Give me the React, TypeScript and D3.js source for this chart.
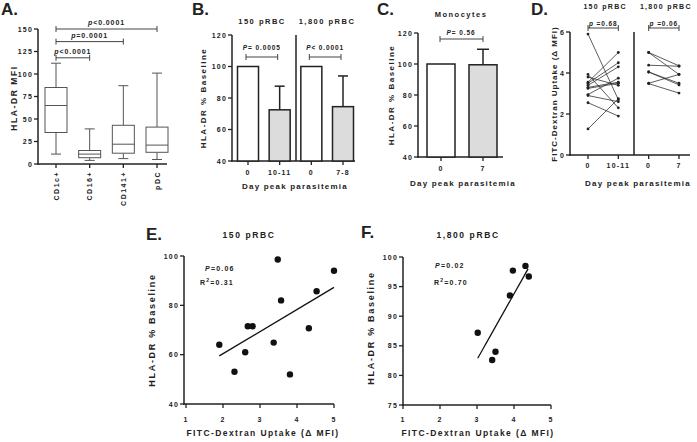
import React from "react";
import * as d3 from "d3";

// ---------- Panel A: box plots ----------
const boxCategories = ["CD1c+", "CD16+", "CD141+", "pDC"];
const boxMin = [11, 4, 6, 5];
const boxQ1 = [35, 7, 12, 13];
const boxMedian = [65, 11, 22, 21];
const boxQ3 = [85, 15, 43, 41];
const boxMax = [112, 39, 87, 101];
const boxTicks = [0, 25, 50, 75, 100, 125, 150];
const aBracketFrom = [0, 0, 0];
const aBracketTo = [1, 2, 3];
const aBracketY = [118, 136, 150];
const aBracketText = ["<0.0001", "=0.0001", "<0.0001"];

// ---------- Panel B: bars ----------
const bGroups = ["150 pRBC", "1,800 pRBC"];
const bDays = ["0", "10-11", "0", "7-8"];
const bMean = [100, 72.5, 100, 74.5];
const bUpper = [100, 87.5, 100, 94];
const bPText = ["= 0.0005", "< 0.0001"];
const bTicks = [40, 60, 80, 100, 120];

// ---------- Panel C: monocytes ----------
const cDays = ["0", "7"];
const cMean = [100, 99.5];
const cUpper = [100, 109.5];
const cPText = "= 0.56";
const cTicks = [40, 60, 80, 100, 120];

// ---------- Panel D: paired lines ----------
const dGroups = ["150 pRBC", "1,800 pRBC"];
const dDays = ["0", "10-11", "0", "7"];
const dLowBefore = [5.9, 3.93, 3.8, 3.55, 3.5, 3.4, 3.3, 3.25, 2.95, 2.9, 2.55, 1.27];
const dLowAfter = [2.7, 2.3, 3.4, 5.0, 4.5, 4.3, 3.55, 3.5, 3.75, 2.6, 1.9, 2.75];
const dHighBefore = [5.0, 5.0, 4.38, 4.05, 4.05, 3.5, 3.48];
const dHighAfter = [4.35, 3.93, 4.33, 3.5, 3.42, 3.93, 3.02];
const dPText = ["=0.68", "=0.06"];
const dTicks = [0, 2, 4, 6];

// ---------- Panel E: scatter 150 pRBC ----------
const eX = [1.9, 2.31, 2.6, 2.67, 2.8, 3.37, 3.48, 3.57, 3.81, 4.32, 4.53, 5.0];
const eY = [64, 53.1, 61, 71.5, 71.5, 64.9, 98.6, 82, 52, 70.7, 85.7, 94];
const eFitX = [1.9, 5.0];
const eFitY = [59.5, 87.3];
const eXTicks = [1, 2, 3, 4, 5];
const eYTicks = [40, 60, 80, 100];

// ---------- Panel F: scatter 1,800 pRBC ----------
const fX = [3.02, 3.41, 3.5, 3.89, 3.97, 4.31, 4.4];
const fY = [87.2, 82.6, 84, 93.5, 97.7, 98.5, 96.7];
const fFitX = [3.02, 4.38];
const fFitY = [82.9, 98.0];
const fXTicks = [1, 2, 3, 4, 5];
const fYTicks = [75, 80, 85, 90, 95, 100];

const FONT = "'Liberation Sans', Arial, Helvetica, sans-serif";
const AX = "#222";

const txt = (size: number, spacing = 1): React.CSSProperties => ({
  fontFamily: FONT,
  fontWeight: 700,
  fontSize: size,
  letterSpacing: spacing,
  fill: "#222",
});

function YAxis({ scale, x, ticks, fmt = (d: number) => String(d) }: any) {
  const [r0, r1] = scale.range();
  return (
    <g>
      <line x1={x} x2={x} y1={r0 + 0.75} y2={r1} stroke={AX} strokeWidth={1.5} />
      {ticks.map((t: number) => (
        <g key={t}>
          <line x1={x - 4} x2={x} y1={scale(t)} y2={scale(t)} stroke={AX} strokeWidth={1.3} />
          <text x={x - 5} y={scale(t) + 2.5} textAnchor="end" style={txt(7, 1.2)}>
            {fmt(t)}
          </text>
        </g>
      ))}
    </g>
  );
}

function Bracket({ x1, x2, y, caps = 3 }: any) {
  return (
    <g stroke="#444" strokeWidth={1}>
      <line x1={x1} x2={x2} y1={y} y2={y} />
      <line x1={x1} x2={x1} y1={y - caps} y2={y + caps} />
      <line x1={x2} x2={x2} y1={y - caps} y2={y + caps} />
    </g>
  );
}

function PLabel({ x, y, letter, rest, size = 6.5 }: any) {
  return (
    <text x={x} y={y} textAnchor="middle" style={txt(size, 0.9)}>
      <tspan fontStyle="italic">{letter}</tspan>
      {rest}
    </text>
  );
}

export default function App() {
  // ----- Panel A -----
  const aY = d3.scaleLinear().domain([0, 150]).range([164, 29]);
  const aX = d3.scalePoint<string>().domain(boxCategories).range([56, 157]);
  const boxW = 22;

  // ----- Panel B -----
  const bY = d3.scaleLinear().domain([40, 120]).range([161, 35]);
  const bX = d3.scalePoint<number>().domain([0, 1, 2, 3]).range([248, 343]);
  const bW = 21;

  // ----- Panel C -----
  const cY = d3.scaleLinear().domain([40, 120]).range([157, 33]);
  const cX = d3.scalePoint<number>().domain([0, 1]).range([441, 483]);
  const cW = 28;

  // ----- Panel D -----
  const dY = d3.scaleLinear().domain([0, 6]).range([155, 32]);
  const dX = d3.scalePoint<number>().domain([0, 1, 2, 3]).range([588, 679]);

  // ----- Panel E -----
  const eXs = d3.scaleLinear().domain([1, 5]).range([186, 334]);
  const eYs = d3.scaleLinear().domain([40, 100]).range([404, 256]);

  // ----- Panel F -----
  const fXs = d3.scaleLinear().domain([1, 5]).range([403, 551]);
  const fYs = d3.scaleLinear().domain([75, 100]).range([405, 257]);

  const line = d3.line<[number, number]>();

  return (
    <svg width={697} height={442} style={{ position: "absolute", left: 0, top: 0, background: "#fff" }}>
      <rect width={697} height={442} fill="#fff" />

      {/* Panel letters */}
      <text x={1} y={15} style={txt(17, 0)}>A.</text>
      <text x={192} y={15} style={txt(17, 0)}>B.</text>
      <text x={377} y={15} style={txt(17, 0)}>C.</text>
      <text x={531} y={15} style={txt(17, 0)}>D.</text>
      <text x={146} y={240} style={txt(17, 0)}>E.</text>
      <text x={361} y={238} style={txt(17, 0)}>F.</text>

      {/* ================= A ================= */}
      <g>
        <YAxis scale={aY} x={38} ticks={boxTicks} />
        <line x1={37.25} x2={167} y1={164} y2={164} stroke={AX} strokeWidth={1.5} />
        {boxCategories.map((c, i) => {
          const cx = aX(c)!;
          return (
            <g key={c}>
              <line x1={cx} x2={cx} y1={164} y2={168} stroke={AX} strokeWidth={1.3} />
              <text
                transform={`translate(${cx + 2.5},${171}) rotate(-90)`}
                textAnchor="end"
                style={txt(7, 1.5)}
              >
                {c}
              </text>
              <g stroke="#555" strokeWidth={1} fill="none">
                <line x1={cx} x2={cx} y1={aY(boxMax[i])} y2={aY(boxQ3[i])} />
                <line x1={cx} x2={cx} y1={aY(boxQ1[i])} y2={aY(boxMin[i])} />
                <line x1={cx - 5} x2={cx + 5} y1={aY(boxMax[i])} y2={aY(boxMax[i])} />
                <line x1={cx - 5} x2={cx + 5} y1={aY(boxMin[i])} y2={aY(boxMin[i])} />
                <rect x={cx - boxW / 2} y={aY(boxQ3[i])} width={boxW} height={aY(boxQ1[i]) - aY(boxQ3[i])} fill="#fff" />
                <line x1={cx - boxW / 2} x2={cx + boxW / 2} y1={aY(boxMedian[i])} y2={aY(boxMedian[i])} />
              </g>
            </g>
          );
        })}
        {aBracketFrom.map((f, i) => {
          const x1 = aX(boxCategories[f])!;
          const x2 = aX(boxCategories[aBracketTo[i]])!;
          const y = aY(aBracketY[i]);
          return (
            <g key={i}>
              <Bracket x1={x1} x2={x2} y={y} caps={3} />
              <PLabel x={(x1 + x2) / 2} y={y - 4} letter="p" rest={aBracketText[i]} size={7} />
            </g>
          );
        })}
        <text transform="translate(17,98) rotate(-90)" textAnchor="middle" style={txt(8.5, 1.6)}>
          HLA-DR MFI
        </text>
      </g>

      {/* ================= B ================= */}
      <g>
        <YAxis scale={bY} x={232} ticks={bTicks} />
        <line x1={231.25} x2={355} y1={161} y2={161} stroke={AX} strokeWidth={1.5} />
        <line x1={296} x2={296} y1={35} y2={161} stroke={AX} strokeWidth={1.5} />
        {bDays.map((d, i) => {
          const cx = bX(i)!;
          return (
            <g key={i}>
              {bUpper[i] > bMean[i] && (
                <g stroke={AX} strokeWidth={1.5}>
                  <line x1={cx} x2={cx} y1={bY(bMean[i])} y2={bY(bUpper[i])} />
                  <line x1={cx - 5} x2={cx + 5} y1={bY(bUpper[i])} y2={bY(bUpper[i])} />
                </g>
              )}
              <rect
                x={cx - bW / 2}
                y={bY(bMean[i])}
                width={bW}
                height={bY(40) - bY(bMean[i])}
                fill={i % 2 === 0 ? "#fff" : "#dcdcdc"}
                stroke={AX}
                strokeWidth={1.5}
              />
              <line x1={cx} x2={cx} y1={161} y2={165} stroke={AX} strokeWidth={1.3} />
              <text x={cx} y={175} textAnchor="middle" style={txt(7, 1.2)}>
                {d}
              </text>
            </g>
          );
        })}
        {bGroups.map((g, k) => {
          const x1 = bX(2 * k)!;
          const x2 = bX(2 * k + 1)!;
          return (
            <g key={g}>
              <text x={k === 0 ? 262 : 327} y={24} textAnchor="middle" style={txt(7.5, 1.5)}>
                {g}
              </text>
              <Bracket x1={x1 - 2} x2={x2 - 2} y={57} caps={3} />
              <PLabel x={(x1 + x2) / 2 - 2} y={50} letter="P" rest={bPText[k]} />
            </g>
          );
        })}
        <text transform="translate(206,98) rotate(-90)" textAnchor="middle" style={txt(8, 1.5)}>
          HLA-DR % Baseline
        </text>
        <text x={295} y={189} textAnchor="middle" style={txt(8, 1.2)}>
          Day peak parasitemia
        </text>
      </g>

      {/* ================= C ================= */}
      <g>
        <YAxis scale={cY} x={418} ticks={cTicks} />
        <line x1={417.25} x2={503} y1={157} y2={157} stroke={AX} strokeWidth={1.5} />
        {cDays.map((d, i) => {
          const cx = cX(i)!;
          return (
            <g key={i}>
              {cUpper[i] > cMean[i] && (
                <g stroke={AX} strokeWidth={1.5}>
                  <line x1={cx} x2={cx} y1={cY(cMean[i])} y2={cY(cUpper[i])} />
                  <line x1={cx - 6} x2={cx + 6} y1={cY(cUpper[i])} y2={cY(cUpper[i])} />
                </g>
              )}
              <rect
                x={cx - cW / 2}
                y={cY(cMean[i])}
                width={cW}
                height={cY(40) - cY(cMean[i])}
                fill={i === 0 ? "#fff" : "#dcdcdc"}
                stroke={AX}
                strokeWidth={1.5}
              />
              <line x1={cx} x2={cx} y1={157} y2={161} stroke={AX} strokeWidth={1.3} />
              <text x={cx} y={171} textAnchor="middle" style={txt(7, 1.2)}>
                {d}
              </text>
            </g>
          );
        })}
        <text x={461} y={17} textAnchor="middle" style={txt(7.5, 1.5)}>
          Monocytes
        </text>
        <Bracket x1={cX(0)! - 1} x2={cX(1)!} y={39} caps={3} />
        <PLabel x={461} y={35} letter="P" rest={cPText} />
        <text transform="translate(394,95) rotate(-90)" textAnchor="middle" style={txt(8, 1.5)}>
          HLA-DR % Baseline
        </text>
        <text x={463} y={186} textAnchor="middle" style={txt(8, 1.2)}>
          Day peak parasitemia
        </text>
      </g>

      {/* ================= D ================= */}
      <g>
        <YAxis scale={dY} x={570} ticks={dTicks} />
        <line x1={569.25} x2={690} y1={155} y2={155} stroke={AX} strokeWidth={1.5} />
        <line x1={634} x2={634} y1={32} y2={155} stroke={AX} strokeWidth={1.5} />
        {dDays.map((d, i) => {
          const cx = dX(i)!;
          return (
            <g key={i}>
              <line x1={cx} x2={cx} y1={155} y2={159} stroke={AX} strokeWidth={1.3} />
              <text x={cx} y={168} textAnchor="middle" style={txt(7, 1.2)}>
                {d}
              </text>
            </g>
          );
        })}
        {[
          [dLowBefore, dLowAfter, 0],
          [dHighBefore, dHighAfter, 2],
        ].map(([before, after, off]: any, k) => (
          <g key={k}>
            {(before as number[]).map((v, j) => {
              const p0: [number, number] = [dX(off)!, dY(v)];
              const p1: [number, number] = [dX(off + 1)!, dY((after as number[])[j])];
              return (
                <g key={j}>
                  <path d={line([p0, p1])!} stroke="#333" strokeWidth={0.8} fill="none" />
                  <circle cx={p0[0]} cy={p0[1]} r={1.4} fill="#222" />
                  <circle cx={p1[0]} cy={p1[1]} r={1.4} fill="#222" />
                </g>
              );
            })}
          </g>
        ))}
        {dGroups.map((g, k) => {
          const x1 = dX(2 * k)!;
          const x2 = dX(2 * k + 1)!;
          return (
            <g key={g}>
              <text x={(x1 + x2) / 2 + 2} y={9} textAnchor="middle" style={txt(7, 1.3)}>
                {g}
              </text>
              <Bracket x1={x1} x2={x2} y={28} caps={3} />
              <PLabel x={(x1 + x2) / 2} y={25.5} letter="p" rest={" " + dPText[k]} />
            </g>
          );
        })}
        <text transform="translate(557,94) rotate(-90)" textAnchor="middle" style={txt(8, 1.0)}>
          FITC-Dextran Uptake (Δ MFI)
        </text>
        <text x={638} y={186} textAnchor="middle" style={txt(8, 1.2)}>
          Day peak parasitemia
        </text>
      </g>

      {/* ================= E ================= */}
      <g>
        <YAxis scale={eYs} x={184} ticks={eYTicks} />
        <line x1={183.25} x2={334} y1={404} y2={404} stroke={AX} strokeWidth={1.5} />
        {eXTicks.map((t) => (
          <g key={t}>
            <line x1={eXs(t)} x2={eXs(t)} y1={404} y2={408} stroke={AX} strokeWidth={1.3} />
            <text x={eXs(t)} y={422} textAnchor="middle" style={txt(7, 1.2)}>
              {t}
            </text>
          </g>
        ))}
        {eX.map((x, i) => (
          <circle key={i} cx={eXs(x)} cy={eYs(eY[i])} r={3.2} fill="#111" />
        ))}
        <path
          d={line(eFitX.map((x, i) => [eXs(x), eYs(eFitY[i])] as [number, number]))!}
          stroke="#111"
          strokeWidth={1.3}
          fill="none"
        />
        <text x={249} y={238} textAnchor="middle" style={txt(8.5, 1.6)}>
          150 pRBC
        </text>
        <text x={205} y={271} style={txt(7, 1.2)}>
          <tspan fontStyle="italic">P</tspan>=0.06
        </text>
        <text x={200} y={285} style={txt(7, 1.2)}>
          R<tspan dy={-3} fontSize={5}>2</tspan>
          <tspan dy={3}>=0.31</tspan>
        </text>
        <text transform="translate(155,330) rotate(-90)" textAnchor="middle" style={txt(9, 1.7)}>
          HLA-DR % Baseline
        </text>
        <text x={263} y={436} textAnchor="middle" style={txt(8.5, 1.4)}>
          FITC-Dextran Uptake (Δ MFI)
        </text>
      </g>

      {/* ================= F ================= */}
      <g>
        <YAxis scale={fYs} x={403} ticks={fYTicks} />
        <line x1={402.25} x2={551} y1={405} y2={405} stroke={AX} strokeWidth={1.5} />
        {fXTicks.map((t) => (
          <g key={t}>
            <line x1={fXs(t)} x2={fXs(t)} y1={405} y2={409} stroke={AX} strokeWidth={1.3} />
            <text x={fXs(t)} y={422} textAnchor="middle" style={txt(7, 1.2)}>
              {t}
            </text>
          </g>
        ))}
        {fX.map((x, i) => (
          <circle key={i} cx={fXs(x)} cy={fYs(fY[i])} r={3.2} fill="#111" />
        ))}
        <path
          d={line(fFitX.map((x, i) => [fXs(x), fYs(fFitY[i])] as [number, number]))!}
          stroke="#111"
          strokeWidth={1.3}
          fill="none"
        />
        <text x={468} y={238} textAnchor="middle" style={txt(8.5, 1.6)}>
          1,800 pRBC
        </text>
        <text x={435} y={268} style={txt(7, 1.2)}>
          <tspan fontStyle="italic">P</tspan>=0.02
        </text>
        <text x={434} y={285} style={txt(7, 1.2)}>
          R<tspan dy={-3} fontSize={5}>2</tspan>
          <tspan dy={3}>=0.70</tspan>
        </text>
        <text transform="translate(374,328) rotate(-90)" textAnchor="middle" style={txt(9, 1.7)}>
          HLA-DR % Baseline
        </text>
        <text x={478} y={436} textAnchor="middle" style={txt(8.5, 1.4)}>
          FITC-Dextran Uptake (Δ MFI)
        </text>
      </g>
    </svg>
  );
}
